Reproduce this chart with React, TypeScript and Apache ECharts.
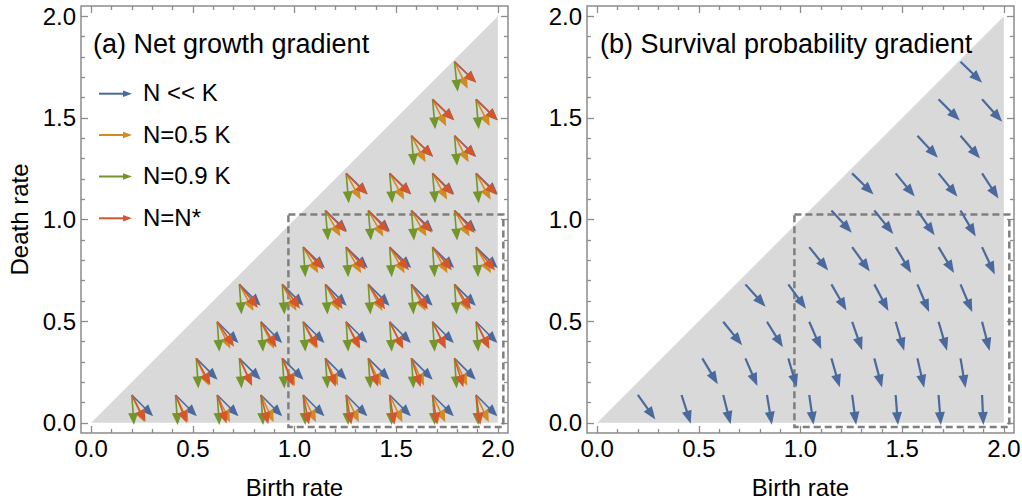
import React, { useEffect, useRef } from 'react';
import * as echarts from 'echarts';

// ---------- data ----------
const TICKS_MAJOR = [0, 0.5, 1.0, 1.5, 2.0];
const TICKS_MINOR = [0.1, 0.2, 0.3, 0.4, 0.6, 0.7, 0.8, 0.9, 1.1, 1.2, 1.3, 1.4, 1.6, 1.7, 1.8, 1.9];
const TRIANGLE = [[0, 0], [2, 2], [2, 0]];
const BOX = [[0.97, -0.02], [2.027, 1.025]];

// arrow tails (hexagonal grid), death rate per row and birth rates in each row
const ROW_D = [0.137, 0.317, 0.497, 0.681, 0.864, 1.044, 1.227, 1.412, 1.591, 1.776];
const ROW_B = [
  [0.200, 0.415, 0.620, 0.835, 1.043, 1.254, 1.468, 1.679, 1.893],
  [0.517, 0.729, 0.940, 1.152, 1.363, 1.575, 1.787],
  [0.620, 0.835, 1.043, 1.254, 1.468, 1.679, 1.893],
  [0.729, 0.940, 1.152, 1.363, 1.575, 1.787],
  [1.043, 1.254, 1.468, 1.679, 1.893],
  [1.152, 1.363, 1.575, 1.787],
  [1.254, 1.468, 1.679, 1.893],
  [1.575, 1.787],
  [1.679, 1.893],
  [1.787],
];

// (b) survival probability gradient: arrow angle (deg, clockwise from straight down)
const SURV_ANGLE = [
  [35.5, 17.8, 14.2, 9.5, 8.2, 7.6, 4.4, 4.4, 2.5],
  [31, 23.5, 16.4, 16, 14.8, 12.9, 9.5],
  [39, 32, 23.6, 19.4, 16.4, 16.4, 14.5],
  [42, 36, 30, 28, 22.9, 22.9],
  [39, 36, 31, 31, 25],
  [42.7, 39, 34.8, 30.4],
  [45.4, 39.4, 38.9, 33],
  [42.9, 40.6],
  [45, 41.8],
  [45.9],
];

// (a) net growth gradient: angles per row for each case
const BLUE_ROW = [45, 45, 45, 45, 46, 46, 46, 46, 46, 46];
const ORANGE_ROW = [25, 25, 26, 28, 30, 30, 29, 28, 27, 26];
const GREEN_ROW = [4, 4, 4, 4, 4, 5, 5, 5, 5, 6];
const RED_ANGLE = [
  [27, 22, 18, 14, 11, 10, 9, 9, 8],
  [28, 25, 22, 20, 19, 18, 17],
  [34, 31, 29, 28, 27, 26, 26],
  [38, 36, 35, 34, 33, 33],
  [42, 41, 40, 40, 39],
  [44, 43, 43, 42],
  [45, 45, 44, 44],
  [46, 45],
  [46, 46],
  [46],
];

const LEGEND_LABELS = ['N << K', 'N=0.5 K', 'N=0.9 K', 'N=N*'];
const TITLES = ['(a) Net growth gradient', '(b) Survival probability gradient'];

// ---------- styles ----------
const COLORS = ['#4a6a9e', '#d08b22', '#73962a', '#d3562c'];
const FRAME = '#8c8c8c';
const FONT = '"Liberation Sans", Arial, Helvetica, sans-serif';
const ARROW_LEN = 0.148;

function build(angleAt: (r: number, i: number) => number) {
  const out: number[][] = [];
  ROW_B.forEach((row, r) => row.forEach((b, i) => out.push([b, ROW_D[r], angleAt(r, i)])));
  return out;
}

const arrowRender = (color: string, lw: number, hl: number, hw: number) => (params: any, api: any) => {
  const b = api.value(0), d = api.value(1), a = (api.value(2) * Math.PI) / 180;
  const p0 = api.coord([b, d]);
  const p1 = api.coord([b + ARROW_LEN * Math.sin(a), d - ARROW_LEN * Math.cos(a)]);
  const dx = p1[0] - p0[0], dy = p1[1] - p0[1];
  const len = Math.hypot(dx, dy) || 1;
  const ux = dx / len, uy = dy / len;
  const bx = p1[0] - ux * hl, by = p1[1] - uy * hl;
  return {
    type: 'group',
    children: [
      { type: 'line', shape: { x1: p0[0], y1: p0[1], x2: bx + ux, y2: by + uy }, style: { stroke: color, lineWidth: lw } },
      { type: 'polygon', shape: { points: [[p1[0], p1[1]], [bx - uy * hw, by + ux * hw], [bx + uy * hw, by - ux * hw]] }, style: { fill: color } },
    ],
  };
};

function axesFor(g: number, dim: 'x' | 'y') {
  const isX = dim === 'x';
  const base = { gridIndex: g, type: 'value', min: -0.05, max: 2.05, axisLine: { show: false, onZero: false }, splitLine: { show: false } };
  const tickStyle = { color: FRAME, width: 1.3 };
  const major = {
    ...base,
    position: isX ? 'bottom' : 'left',
    axisTick: { show: true, inside: true, length: 7, customValues: TICKS_MAJOR, lineStyle: tickStyle },
    axisLabel: {
      show: true, customValues: TICKS_MAJOR, formatter: (v: number) => v.toFixed(1),
      fontSize: 24, color: '#000', fontFamily: FONT, margin: isX ? 3 : 5,
    },
    name: isX ? 'Birth rate' : (g === 0 ? 'Death rate' : ''),
    nameLocation: 'middle',
    nameGap: isX ? 42 : 50,
    nameRotate: isX ? 0 : 90,
    nameTextStyle: { fontSize: 24, color: '#000', fontFamily: FONT },
  };
  const minor = {
    ...base, position: isX ? 'bottom' : 'left',
    axisTick: { show: true, inside: true, length: 4, customValues: TICKS_MINOR, lineStyle: tickStyle },
    axisLabel: { show: false },
  };
  const majorOpp = {
    ...base, position: isX ? 'top' : 'right',
    axisTick: { show: true, inside: true, length: 7, customValues: TICKS_MAJOR, lineStyle: tickStyle },
    axisLabel: { show: false },
  };
  const minorOpp = {
    ...base, position: isX ? 'top' : 'right',
    axisTick: { show: true, inside: true, length: 4, customValues: TICKS_MINOR, lineStyle: tickStyle },
    axisLabel: { show: false },
  };
  return [major, minor, majorOpp, minorOpp];
}

export default function App() {
  const ref = useRef<HTMLDivElement>(null);
  useEffect(() => {
    if (!ref.current) return;
    const chart = echarts.init(ref.current, null, { renderer: 'svg' });

    const grids = [0, 1].map((g) => ({
      left: g === 0 ? 81 : 587, top: 6, width: 427, height: 427,
      show: true, borderColor: FRAME, borderWidth: 1.5, backgroundColor: 'transparent',
      containLabel: false, outerBoundsMode: 'none',
    }));

    const series: any[] = [];
    [0, 1].forEach((g) => {
      const ax = { xAxisIndex: g * 4, yAxisIndex: g * 4 };
      series.push({
        type: 'custom', ...ax, silent: true, z: 1, data: [[1, 1]],
        renderItem: (p: any, api: any) => ({
          type: 'polygon', shape: { points: TRIANGLE.map((pt) => api.coord(pt)) }, style: { fill: '#d9d9d9' },
        }),
      });
      series.push({
        type: 'custom', ...ax, silent: true, z: 2, data: [[1, 1]],
        renderItem: (p: any, api: any) => {
          const a = api.coord(BOX[0]), b = api.coord(BOX[1]);
          return {
            type: 'rect', shape: { x: a[0], y: b[1], width: b[0] - a[0], height: a[1] - b[1] },
            style: { fill: 'none', stroke: '#7f7f7f', lineWidth: 2.5, lineDash: [7, 4] },
          };
        },
      });
    });

    const netSets = [
      build((r) => BLUE_ROW[r]),
      build((r) => ORANGE_ROW[r]),
      build((r) => GREEN_ROW[r]),
      build((r, i) => RED_ANGLE[r][i]),
    ];
    netSets.forEach((data, k) => {
      series.push({
        type: 'custom', xAxisIndex: 0, yAxisIndex: 0, silent: true, z: 3 + k,
        encode: { x: 0, y: 1 }, data, renderItem: arrowRender(COLORS[k], 1.6, 12, 5),
      });
    });
    series.push({
      type: 'custom', xAxisIndex: 4, yAxisIndex: 4, silent: true, z: 3,
      encode: { x: 0, y: 1 }, data: build((r, i) => SURV_ANGLE[r][i]), renderItem: arrowRender(COLORS[0], 2.2, 13, 5),
    });

    const graphics: any[] = [
      { type: 'text', x: 93, y: 43.5, style: { text: TITLES[0], font: `27px ${FONT}`, fill: '#000', verticalAlign: 'middle', align: 'left' }, z: 100 },
      { type: 'text', x: 600, y: 43.5, style: { text: TITLES[1], font: `27px ${FONT}`, fill: '#000', verticalAlign: 'middle', align: 'left' }, z: 100 },
    ];
    const legendY = [93.7, 135, 176.5, 218.3];
    LEGEND_LABELS.forEach((lab, k) => {
      const y = legendY[k];
      graphics.push({
        type: 'group', z: 100,
        children: [
          { type: 'line', shape: { x1: 99, y1: y, x2: 125, y2: y }, style: { stroke: COLORS[k], lineWidth: 2 } },
          { type: 'polygon', shape: { points: [[132, y], [123, y - 3.2], [123, y + 3.2]] }, style: { fill: COLORS[k] } },
          { type: 'text', x: 143, y: y - 1, style: { text: lab, font: `24px ${FONT}`, fill: '#000', verticalAlign: 'middle', align: 'left' } },
        ],
      });
    });

    chart.setOption({
      animation: false,
      backgroundColor: '#fff',
      grid: grids,
      xAxis: [...axesFor(0, 'x'), ...axesFor(1, 'x')],
      yAxis: [...axesFor(0, 'y'), ...axesFor(1, 'y')],
      series,
      graphic: graphics,
    });
    return () => chart.dispose();
  }, []);
  return <div ref={ref} style={{ position: 'absolute', left: 0, top: 0, width: 1022, height: 499 }} />;
}
